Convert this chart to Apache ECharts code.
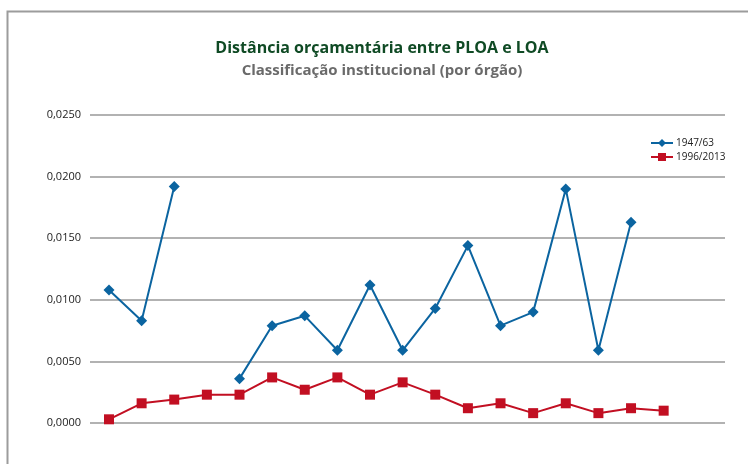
<!DOCTYPE html>
<html>
<head>
<meta charset="utf-8">
<script src="https://cdn.jsdelivr.net/npm/echarts@6/dist/echarts.min.js"></script>
<style>
  html, body { margin: 0; padding: 0; background: #fff; }
  #chart { width: 748px; height: 464px; }
</style>
</head>
<body>
<div id="chart"></div>
<script>
const orgaos = [1, 2, 3, 4, 5, 6, 7, 8, 9, 10, 11, 12, 13, 14, 15, 16, 17, 18]
const serie1947 = [0.0108, 0.0083, 0.0192, null, 0.0036, 0.0079, 0.0087, 0.0059, 0.0112, 0.0059, 0.0093, 0.0144, 0.0079, 0.0090, 0.0190, 0.0059, 0.0163, null]
const serie1996 = [0.0003, 0.0016, 0.0019, 0.0023, 0.0023, 0.0037, 0.0027, 0.0037, 0.0023, 0.0033, 0.0023, 0.0012, 0.0016, 0.0008, 0.0016, 0.0008, 0.0012, 0.0010]
const yTicks = [0, 0.005, 0.01, 0.015, 0.02, 0.025]

const chart = echarts.init(document.getElementById('chart'))

const toPairs = arr => orgaos.map((o, i) => [i, arr[i]])

const option = {
  animation: false,
  backgroundColor: '#fff',
  title: {
    text: 'Distância orçamentária entre PLOA e LOA',
    subtext: 'Classificação institucional (por órgão)',
    left: 377,
    top: 35,
    textAlign: 'center',
    itemGap: 7,
    textStyle: { color: '#0f4a24', fontSize: 16, fontWeight: 'bold', fontFamily: 'Open Sans' },
    subtextStyle: { color: '#6a6a6a', fontSize: 15, fontWeight: 'bold', fontFamily: 'Open Sans' }
  },
  legend: {
    orient: 'vertical',
    left: 645,
    top: 133,
    itemWidth: 22,
    itemHeight: 10,
    itemGap: 4,
    textStyle: { color: '#222', fontSize: 10, fontFamily: 'Open Sans', padding: [0, 0, 0, -2] },
    data: ['1947/63', '1996/2013']
  },
  graphic: [{
    type: 'rect',
    shape: { x: 7.5, y: 11.5, width: 800, height: 600 },
    style: { fill: 'none', stroke: '#9c9c9c', lineWidth: 2 },
    silent: true
  }],
  grid: { left: 90, right: 23, top: 115, bottom: 41 },
  xAxis: {
    type: 'value',
    min: -0.582,
    max: 18.88,
    show: false
  },
  yAxis: {
    type: 'value',
    min: 0,
    max: yTicks[yTicks.length - 1],
    interval: 0.005,
    axisLine: { show: false },
    axisTick: { show: false },
    axisLabel: {
      color: '#222',
      fontSize: 11,
      fontFamily: 'Open Sans',
      margin: 9,
      formatter: v => v.toFixed(4).replace('.', ',')
    },
    splitLine: { lineStyle: { color: '#999', width: 1.5 } }
  },
  series: [
    {
      name: '1947/63',
      type: 'line',
      data: toPairs(serie1947),
      connectNulls: false,
      symbol: 'diamond',
      symbolSize: 11,
      itemStyle: { color: '#0b64a0' },
      lineStyle: { color: '#0b64a0', width: 2 }
    },
    {
      name: '1996/2013',
      type: 'line',
      data: toPairs(serie1996),
      symbol: 'rect',
      symbolSize: 10,
      itemStyle: { color: '#c20f22' },
      lineStyle: { color: '#c20f22', width: 2 }
    }
  ]
}

chart.setOption(option)
</script>
</body>
</html>
